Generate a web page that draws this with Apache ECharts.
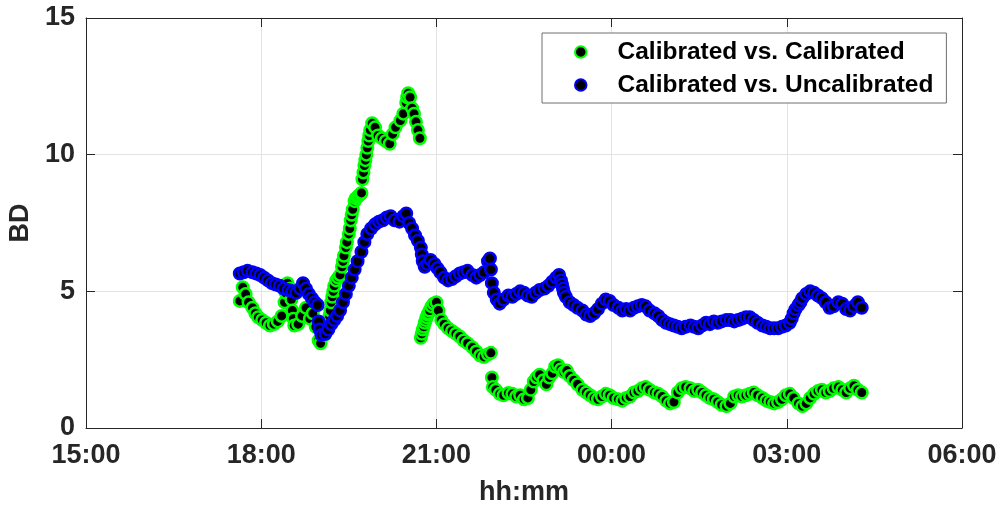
<!DOCTYPE html>
<html>
<head>
<meta charset="utf-8">
<script src="https://cdn.jsdelivr.net/npm/echarts@6/dist/echarts.min.js"></script>
<style>
html, body { margin: 0; padding: 0; background: #fff; }
#chart { width: 1000px; height: 508px; }
</style>
</head>
<body>
<div id="chart"></div>
<script>
// minutes after 15:00 (day 1) and BD values
var greenMin = [158,161,164,167,171,174,177,181,185,189,
    193,197,201,204,205,206,207,210,211,212,
    213,214,218,222,226,230,233,236,239,241,
    245,248,250,251,252,253,254,255,257,259,
    261,263,264,265,267,268,270,271,272,273,
    274,276,277,279,280,282,283,284,285,286,
    287,288,289,290,291,292,294,297,300,304,
    308,312,315,318,323,326,329,330,331,333,
    335,337,339,341,343,344,345,346,347,348,
    349,350,351,352,353,355,357,360,362,365,
    368,372,376,380,384,388,392,397,401,405,
    409,413,416,417,418,421,425,429,434,438,
    442,446,450,454,457,460,463,466,470,473,
    476,479,482,485,488,491,494,497,501,505,
    510,514,518,522,526,530,534,538,542,547,
    551,555,559,563,567,571,575,579,584,588,
    592,596,600,604,608,612,616,621,625,629,
    633,637,641,645,649,653,658,662,666,670,
    674,678,682,686,690,695,699,703,707,711,
    715,719,723,727,732,736,740,744,748,752,
    756,760,764,768,773,777,781,785,789,793,
    797];
var greenBD = [4.65,5.15,4.9,4.6,4.4,4.2,4.05,3.95,3.85,3.75,
    3.8,3.9,4.1,4.6,4.95,5.2,5.3,5.1,4.7,4.3,
    4.0,3.75,3.8,4.1,4.4,4.0,4.2,3.7,3.2,3.1,
    3.4,3.9,4.1,4.3,4.6,4.8,5.0,5.2,5.4,5.5,
    5.6,5.9,6.1,6.3,6.6,6.8,7.1,7.3,7.6,7.8,
    8.0,8.3,8.4,8.45,8.5,8.55,8.6,9.1,9.35,9.6,
    9.8,10.0,10.25,10.5,10.7,10.9,11.15,11.0,10.7,10.6,
    10.5,10.4,10.75,11.0,11.25,11.5,11.9,12.1,12.25,12.1,
    11.7,11.5,11.2,10.9,10.6,3.3,3.45,3.6,3.7,3.85,
    3.95,4.05,4.15,4.2,4.3,4.45,4.55,4.6,4.3,3.95,
    3.8,3.65,3.55,3.45,3.35,3.2,3.1,2.95,2.8,2.65,
    2.6,2.7,2.75,1.85,1.5,1.4,1.25,1.2,1.28,1.25,
    1.15,1.2,1.05,1.1,1.4,1.7,1.85,1.95,1.75,1.6,
    1.85,2.0,2.25,2.3,2.15,2.05,2.1,1.9,1.75,1.6,
    1.4,1.3,1.2,1.1,1.05,1.15,1.25,1.2,1.1,1.05,
    1.0,1.1,1.15,1.3,1.35,1.45,1.5,1.4,1.3,1.25,
    1.15,1.0,0.9,0.95,1.3,1.45,1.5,1.45,1.35,1.4,
    1.3,1.2,1.1,1.05,0.95,0.85,0.8,0.9,1.15,1.2,
    1.15,1.2,1.25,1.3,1.2,1.1,1.0,0.95,0.9,0.95,
    1.05,1.2,1.25,1.1,0.9,0.8,0.9,1.1,1.25,1.35,
    1.4,1.3,1.35,1.45,1.5,1.4,1.3,1.45,1.55,1.4,
    1.3];

var blueMin = [158,162,166,171,175,179,183,187,191,195,
    199,203,208,212,216,220,223,226,229,232,
    235,238,239,240,242,246,249,252,255,258,
    261,264,267,270,273,276,279,283,286,289,
    293,297,301,305,309,313,317,322,326,329,
    332,335,338,341,344,345,346,348,351,354,
    358,361,364,368,372,376,380,384,388,392,
    397,401,405,409,413,415,416,417,419,422,
    425,429,434,438,442,446,450,454,458,462,
    466,471,475,479,483,486,488,489,490,491,
    493,497,501,505,510,514,518,522,526,530,
    534,538,542,547,551,555,559,563,567,571,
    575,579,584,588,592,596,600,604,608,612,
    616,621,625,629,633,637,641,645,649,653,
    658,662,666,670,674,678,682,686,690,695,
    699,703,707,711,715,719,723,725,727,729,
    732,734,736,740,744,748,752,756,760,764,
    768,773,777,781,785,789,793,797];
var blueBD = [5.65,5.7,5.75,5.7,5.65,5.6,5.5,5.4,5.3,5.25,
    5.2,5.1,5.05,5.0,4.95,5.1,5.3,5.1,4.9,4.75,
    4.6,4.5,3.9,3.6,3.4,3.45,3.6,3.8,3.95,4.1,
    4.3,4.6,4.9,5.2,5.5,5.8,6.1,6.45,6.8,7.1,
    7.3,7.45,7.55,7.6,7.7,7.75,7.6,7.55,7.75,7.85,
    7.5,7.3,7.05,6.85,6.6,6.35,6.1,5.9,6.0,6.15,
    6.0,5.85,5.7,5.5,5.4,5.45,5.55,5.65,5.7,5.75,
    5.6,5.5,5.6,5.7,6.1,6.2,5.8,5.3,4.95,4.7,
    4.55,4.7,4.85,4.8,4.9,5.0,4.95,4.85,4.8,4.95,
    5.05,5.1,5.2,5.35,5.5,5.6,5.4,5.25,5.1,4.95,
    4.8,4.6,4.5,4.4,4.3,4.15,4.1,4.2,4.35,4.55,
    4.7,4.65,4.5,4.4,4.3,4.35,4.3,4.4,4.45,4.5,
    4.45,4.3,4.2,4.1,3.95,3.85,3.8,3.75,3.7,3.65,
    3.7,3.75,3.7,3.65,3.75,3.85,3.8,3.9,3.85,3.9,
    3.95,3.95,3.9,3.95,4.0,4.05,4.05,3.95,3.85,3.75,
    3.7,3.65,3.65,3.65,3.7,3.75,3.85,4.0,4.2,4.35,
    4.5,4.6,4.75,4.9,5.0,4.95,4.85,4.75,4.6,4.4,
    4.45,4.6,4.55,4.35,4.3,4.45,4.6,4.4];

var seriesNames = ['Calibrated vs. Calibrated', 'Calibrated vs. Uncalibrated'];
var xTicks = [0, 900, 180];   // min, max, interval (minutes after 15:00)
var yTicks = [0, 15, 5];

function pairs(xs, ys) {
    var out = [];
    for (var i = 0; i < xs.length; i++) out.push([xs[i], ys[i]]);
    return out;
}

function hhmm(v) {
    var t = 15 * 60 + v;
    var h = Math.floor(t / 60) % 24;
    var m = t % 60;
    return (h < 10 ? '0' : '') + h + ':' + (m < 10 ? '0' : '') + m;
}

var font = 'Liberation Sans';
var axisColor = '#262626';

var myChart = echarts.init(document.getElementById('chart'));
option = {
    animation: false,
    backgroundColor: '#fff',
    grid: { left: 86, right: 38, top: 18, bottom: 80, containLabel: false, outerBoundsMode: 'none' },
    legend: {
        orient: 'vertical',
        left: 542,
        top: 33,
        padding: [6, 13, 5, 32],
        itemWidth: 11.5,
        itemHeight: 11.5,
        itemGap: 7,
        icon: 'circle',
        backgroundColor: '#fff',
        borderColor: '#6e6e6e',
        borderWidth: 1,
        textStyle: {
            fontFamily: font,
            fontWeight: 'bold',
            fontSize: 24.5,
            lineHeight: 26,
            color: '#000',
            padding: [0, 0, 0, 26]
        },
        data: seriesNames
    },
    xAxis: [{
        type: 'value',
        min: xTicks[0], max: xTicks[1], interval: xTicks[2],
        position: 'bottom',
        name: 'hh:mm',
        nameLocation: 'middle',
        nameGap: 51,
        nameTextStyle: { fontFamily: font, fontWeight: 'bold', fontSize: 27, color: axisColor },
        axisLine: { show: true, onZero: false, lineStyle: { color: axisColor, width: 1 } },
        axisTick: { show: true, inside: true, length: 9, lineStyle: { color: axisColor } },
        axisLabel: {
            fontFamily: font, fontWeight: 'bold', fontSize: 27, color: axisColor, margin: 14,
            formatter: hhmm
        },
        splitLine: { show: true, lineStyle: { color: '#e3e3e3', width: 1 } }
    }, {
        type: 'value',
        min: xTicks[0], max: xTicks[1], interval: xTicks[2],
        position: 'top',
        axisLine: { show: true, onZero: false, lineStyle: { color: axisColor, width: 1 } },
        axisTick: { show: true, inside: true, length: 9, lineStyle: { color: axisColor } },
        axisLabel: { show: false },
        splitLine: { show: false }
    }],
    yAxis: [{
        type: 'value',
        min: yTicks[0], max: yTicks[1], interval: yTicks[2],
        position: 'left',
        name: 'BD',
        nameLocation: 'middle',
        nameGap: 48,
        nameTextStyle: { fontFamily: font, fontWeight: 'bold', fontSize: 27, color: axisColor },
        axisLine: { show: true, onZero: false, lineStyle: { color: axisColor, width: 1 } },
        axisTick: { show: true, inside: true, length: 9, lineStyle: { color: axisColor } },
        axisLabel: { fontFamily: font, fontWeight: 'bold', fontSize: 27, color: axisColor, margin: 11 },
        splitLine: { show: true, lineStyle: { color: '#e3e3e3', width: 1 } }
    }, {
        type: 'value',
        min: yTicks[0], max: yTicks[1], interval: yTicks[2],
        position: 'right',
        axisLine: { show: true, onZero: false, lineStyle: { color: axisColor, width: 1 } },
        axisTick: { show: true, inside: true, length: 9, lineStyle: { color: axisColor } },
        axisLabel: { show: false },
        splitLine: { show: false }
    }],
    series: [{
        name: seriesNames[0],
        type: 'scatter',
        symbol: 'circle',
        symbolSize: 11.5,
        itemStyle: { color: '#000', borderColor: '#00ff00', borderWidth: 2.5, opacity: 1 },
        data: pairs(greenMin, greenBD)
    }, {
        name: seriesNames[1],
        type: 'scatter',
        symbol: 'circle',
        symbolSize: 11.5,
        itemStyle: { color: '#000', borderColor: '#0000ff', borderWidth: 2.5, opacity: 1 },
        data: pairs(blueMin, blueBD)
    }]
};
myChart.setOption(option);
</script>
</body>
</html>
